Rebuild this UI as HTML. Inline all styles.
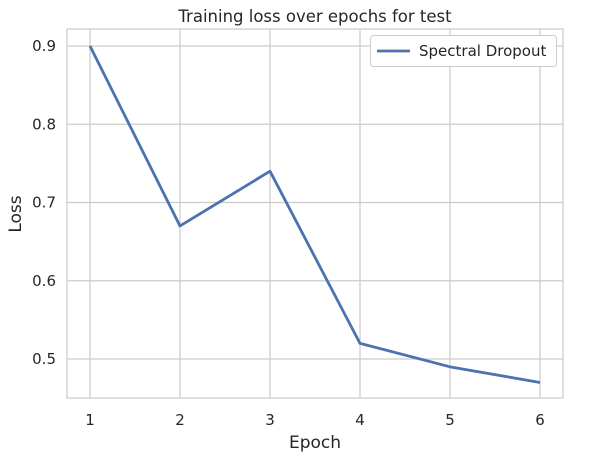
<!DOCTYPE html>
<html><head><meta charset="utf-8"><style>
body{margin:0;background:#fff;}
svg text{font-family:"DejaVu Sans","Liberation Sans",sans-serif;fill:#262626;}
</style></head><body>
<svg id="chart" width="605" height="464" xmlns="http://www.w3.org/2000/svg">
<rect width="605" height="464" fill="#fff"/>
<g id="grid"></g>
<rect x="67" y="29" width="496" height="369" fill="none" stroke="#cccccc" stroke-width="1.25"/>
<g id="ticks"></g>
<polyline id="series" fill="none" stroke="#4c72b0" stroke-width="2.8" stroke-linejoin="round"/>
<text x="315" y="22" text-anchor="middle" font-size="16.5">Training loss over epochs for test</text>
<text x="315" y="448" text-anchor="middle" font-size="17">Epoch</text>
<text x="21" y="214" text-anchor="middle" font-size="17" transform="rotate(-90 21 214)">Loss</text>
<g>
<rect x="370.5" y="35.5" width="186" height="31" rx="3" fill="#fff" stroke="#cccccc"/>
<line x1="377" y1="51" x2="410" y2="51" stroke="#4c72b0" stroke-width="2.8"/>
<text x="419" y="56" font-size="15">Spectral Dropout</text>
</g>
</svg>
<script>
const epochs = [1, 2, 3, 4, 5, 6];
const lossValues = [0.90, 0.67, 0.74, 0.52, 0.49, 0.47];
const yTicks = [0.5, 0.6, 0.7, 0.8, 0.9];
const yTickLabels = ["0.5", "0.6", "0.7", "0.8", "0.9"];

const NS = "http://www.w3.org/2000/svg";
const xScale = v => 90 + (v - 1) * 90;
const yScale = v => 359 - (v - 0.5) * 782.5;
const grid = document.getElementById('grid');
const ticks = document.getElementById('ticks');
function mk(tag, attrs, parent) {
  const e = document.createElementNS(NS, tag);
  for (const k in attrs) e.setAttribute(k, attrs[k]);
  parent.appendChild(e);
  return e;
}
epochs.forEach(v => {
  const x = xScale(v);
  const l = mk('line', {x1: x, x2: x, y1: 29, y2: 398, stroke: '#cccccc', 'stroke-width': 1.25}, grid);
  
  
  const t = mk('text', {x: x, y: 425, 'text-anchor': 'middle', 'font-size': 15}, ticks);
  t.textContent = String(v);
  
  
});
yTicks.forEach((v, i) => {
  const y = yScale(v);
  const l = mk('line', {x1: 67, x2: 563, y1: y, y2: y, stroke: '#cccccc', 'stroke-width': 1.25}, grid);
  
  
  const t = mk('text', {x: 56, y: y + 5, 'text-anchor': 'end', 'font-size': 15}, ticks);
  t.textContent = yTickLabels[i];
  
  
});
document.getElementById('series').setAttribute('points',
  epochs.map((e, i) => xScale(e) + ',' + yScale(lossValues[i])).join(' '));
</script>
</body></html>
